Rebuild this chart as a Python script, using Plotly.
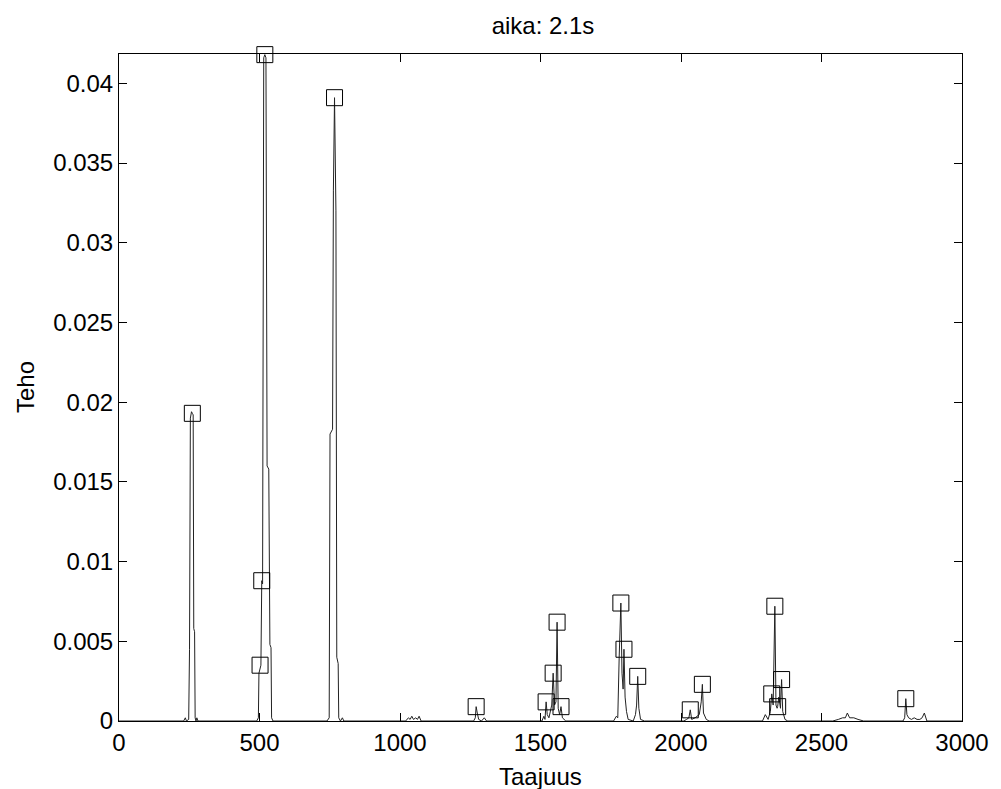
import plotly.graph_objects as go

# Spectrum (frequency in Hz, power)
freq = [0, 230, 236, 240, 248, 251, 254, 258, 261, 264, 266, 269, 271, 274, 277, 281,
        490, 496, 498, 502, 505, 508, 511, 515, 519, 523, 527, 533, 537, 541, 543, 548,
        740, 748, 751, 760, 763, 767, 770, 772, 775, 780, 782, 788, 795, 800,
        1020, 1030, 1036, 1042, 1048, 1056, 1062, 1068, 1075,
        1262, 1268, 1271, 1275, 1280, 1290, 1300, 1308,
        1505, 1512, 1516, 1520, 1524, 1530, 1540, 1545, 1550, 1555, 1559, 1563, 1568, 1573, 1578, 1590,
        1760, 1770, 1775, 1780, 1786, 1790, 1794, 1797, 1801, 1806, 1812, 1830, 1838, 1842, 1846, 1850, 1856, 1870,
        2010, 2020, 2028, 2033, 2038, 2050, 2065, 2072, 2076, 2080, 2090, 2100,
        2290, 2300, 2310, 2318, 2323, 2328, 2334, 2338, 2342, 2344, 2348, 2354, 2358, 2362, 2370, 2380,
        2540, 2560, 2575, 2585, 2592, 2600, 2615, 2630, 2650,
        2790, 2796, 2800, 2804, 2810, 2820, 2830, 2840, 2850, 2858, 2866, 2875, 3000]
power = [0, 0, 0.0002, 0, 0.0001, 0.0045, 0.0190, 0.0194, 0.0193, 0.0192, 0.0058, 0.0056, 0.0002, 0, 0.0002, 0,
         0, 0.0002, 0.0030, 0.0034, 0.0035, 0.0088, 0.0086, 0.0416, 0.0418, 0.0416, 0.0160, 0.0158, 0.0048, 0.0046, 0.0002, 0,
         0, 0.0002, 0.0180, 0.0183, 0.0333, 0.0391, 0.0334, 0.0320, 0.0040, 0.0036, 0.0002, 0, 0.0002, 0,
         0, 0.0002, 0.0001, 0.0003, 0.0001, 0.0002, 0.0001, 0.0003, 0,
         0, 0.0002, 0.0009, 0.0005, 0.0001, 0, 0.0002, 0,
         0, 0.0003, 0.0001, 0.0012, 0.0004, 0.0002, 0.0010, 0.0030, 0.0010, 0.0012, 0.0062, 0.0008, 0.0004, 0.0009, 0.0002, 0,
         0, 0.0003, 0.0002, 0.0040, 0.0074, 0.0030, 0.0020, 0.0045, 0.0015, 0.0006, 0.0001, 0, 0.0004, 0.0010, 0.0028, 0.0008, 0.0001, 0,
         0, 0.0001, 0.0002, 0.0007, 0.0001, 0.0002, 0.0004, 0.0012, 0.0023, 0.0005, 0.0001, 0,
         0, 0.0004, 0.0001, 0.0006, 0.0017, 0.0010, 0.0072, 0.0010, 0.0008, 0.0009, 0.0015, 0.0008, 0.0026, 0.0006, 0.0001, 0,
         0, 0.0001, 0.0002, 0.0002, 0.0005, 0.0002, 0.0002, 0.0001, 0,
         0, 0.0002, 0.0014, 0.0004, 0.0002, 0.0001, 0.0002, 0.0001, 0.0001, 0.0002, 0.0005, 0, 0]

# Detected peaks (square markers)
peak_freq = [261, 519, 508, 502, 767, 1271, 1520, 1545, 1559, 1573,
             1786, 1797, 1846, 2033, 2076, 2323, 2334, 2344, 2358, 2800]
peak_power = [0.0193, 0.0418, 0.0088, 0.0035, 0.0391, 0.0009, 0.0012, 0.0030, 0.0062, 0.0009,
              0.0074, 0.0045, 0.0028, 0.0007, 0.0023, 0.0017, 0.0072, 0.0009, 0.0026, 0.0014]

x_ticks = [0, 500, 1000, 1500, 2000, 2500, 3000]
y_ticks = [0, 0.005, 0.01, 0.015, 0.02, 0.025, 0.03, 0.035, 0.04]
y_labels = ["0", "0.005", "0.01", "0.015", "0.02", "0.025", "0.03", "0.035", "0.04"]

FONT = "Liberation Sans, Arial, Helvetica, sans-serif"
FS = 24

fig = go.Figure()
fig.add_trace(go.Scatter(x=freq, y=power, mode="lines",
                         line=dict(color="#222222", width=1), hoverinfo="skip",
                         cliponaxis=False))
fig.add_trace(go.Scatter(x=peak_freq, y=peak_power, mode="markers",
                         marker=dict(symbol="square-open", size=16, color="black",
                                     line=dict(width=1, color="black")),
                         cliponaxis=False))

fig.update_layout(
    width=1001, height=789,
    margin=dict(l=119, r=34, t=54, b=68),
    paper_bgcolor="white", plot_bgcolor="white",
    showlegend=False,
    font=dict(family=FONT, size=FS, color="black"),
    title=dict(text="aika: 2.1s", x=543 / 1001, xanchor="center",
               y=1 - 26 / 789, yanchor="middle", font=dict(size=FS)),
    annotations=[
        dict(text="Taajuus", xref="paper", yref="paper", x=0.5, y=-(776 - 721) / 667,
             xanchor="center", yanchor="middle", showarrow=False, font=dict(size=FS)),
        dict(text="Teho", xref="paper", yref="paper", x=(25 - 119) / 848, y=0.5,
             xanchor="center", yanchor="middle", textangle=-90, showarrow=False,
             font=dict(size=FS)),
    ],
)
fig.update_xaxes(range=[0, 3000], tickvals=x_ticks, ticktext=[str(v) for v in x_ticks],
                 ticks="inside", ticklen=8, tickcolor="black", showline=True, linecolor="black",
                 linewidth=1, mirror="ticks", showgrid=False, zeroline=False,
                 tickfont=dict(size=FS))
fig.update_yaxes(range=[0, 0.04184], tickvals=y_ticks, ticktext=y_labels,
                 ticks="inside", ticklen=8, tickcolor="black", showline=True, linecolor="black",
                 linewidth=1, mirror="ticks", showgrid=False, zeroline=False,
                 tickfont=dict(size=FS))

fig.write_html("out.html")
